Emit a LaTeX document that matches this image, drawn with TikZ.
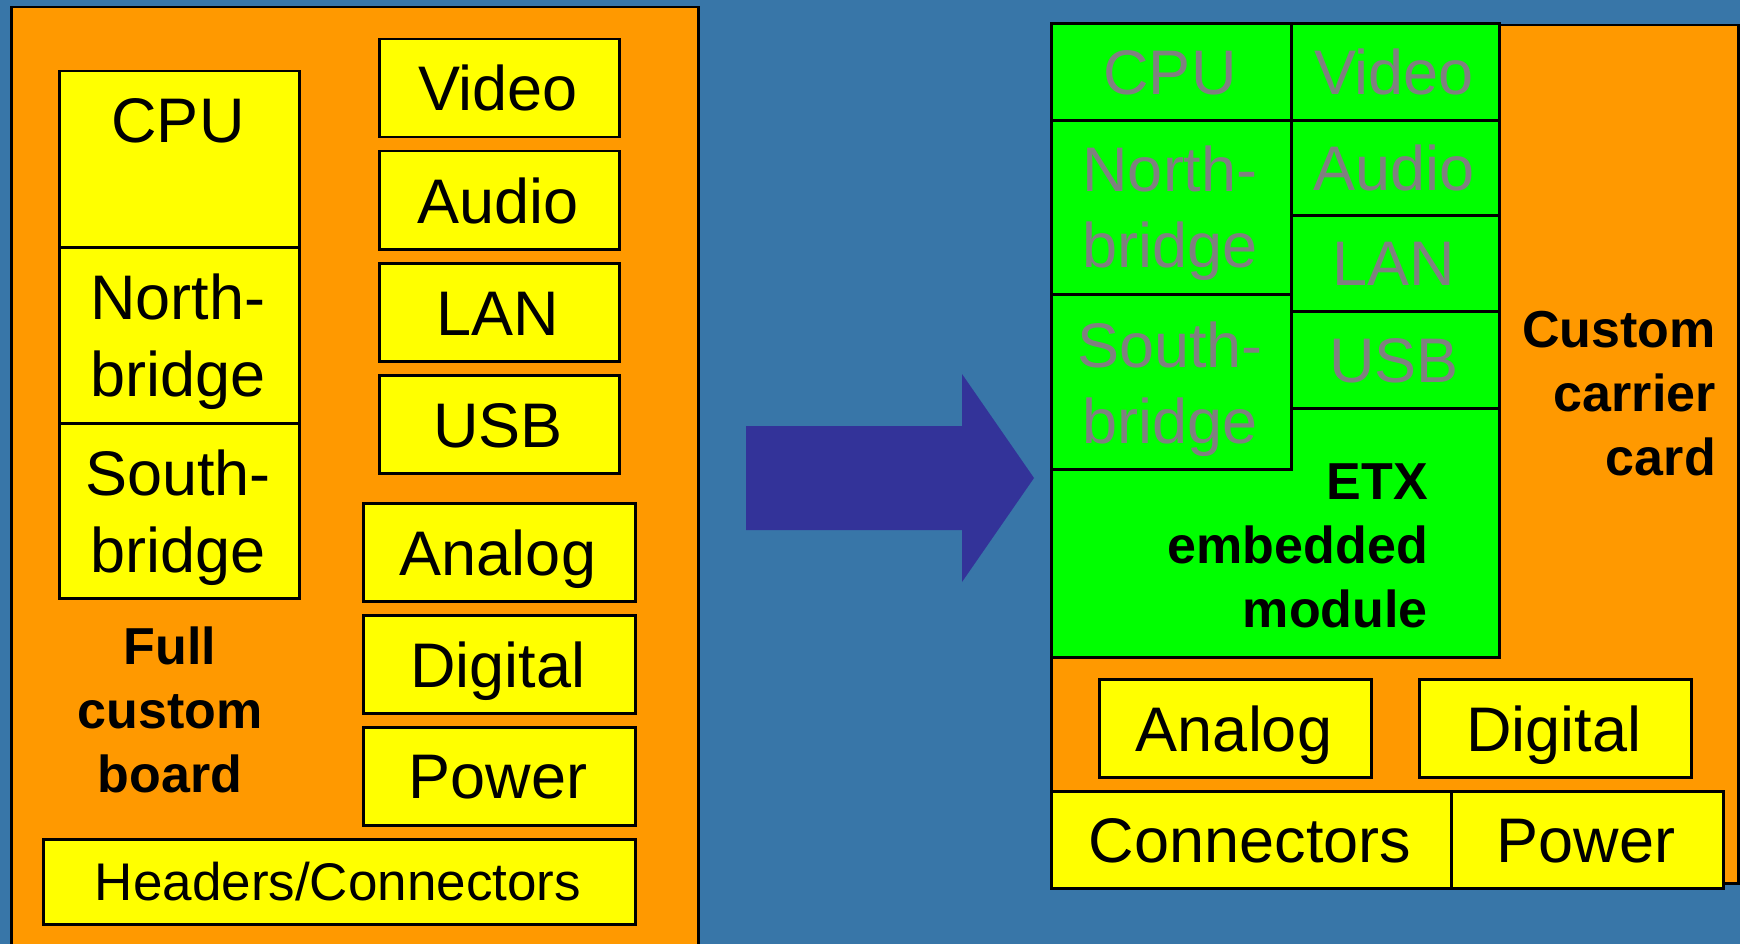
\documentclass[tikz,border=0pt]{standalone}
\usepackage{fontspec}
\setmainfont{Liberation Sans}
\definecolor{bgC}{HTML}{3876A8}
\definecolor{orangeC}{HTML}{FF9900}
\definecolor{yellowC}{HTML}{FFFF00}
\definecolor{greenC}{HTML}{00FF00}
\definecolor{arrowC}{HTML}{333399}
\definecolor{grayC}{HTML}{808080}
\tikzset{
  rbox/.style={draw=black, line width=2.5pt, rectangle, inner sep=0pt, anchor=north west},
  obox/.style={rbox, fill=orangeC},
  ybox/.style={rbox, fill=yellowC},
  gbox/.style={rbox, fill=greenC, line width=3pt},
  lbl/.style={font=\fontsize{63}{77}\selectfont, anchor=base, inner sep=0pt, align=center},
  glbl/.style={lbl, text=grayC, font=\fontsize{63}{76}\selectfont},
  blbl/.style={font=\fontsize{52}{64}\selectfont\bfseries, anchor=base, inner sep=0pt},
}
\begin{document}
\begin{tikzpicture}[x=1pt,y=-1pt]
\fill[bgC] (0,0) rectangle (1740,944);
\useasboundingbox (0,0) rectangle (1740,944);
% ---------- left: full custom board ----------
\node[obox, minimum width=687pt, minimum height=954pt] (boardL) at (10,6) {};
\node[ybox, minimum width=240pt, minimum height=176pt] (cpuL) at (58,70) {};
\node[ybox, minimum width=240pt, minimum height=176pt] (nbL) at (58,246) {};
\node[ybox, minimum width=240pt, minimum height=175pt] (sbL) at (58,422) {};
\node[ybox, minimum width=240pt, minimum height=98pt] (videoL) at (378,38) {};
\node[ybox, minimum width=240pt, minimum height=98pt] (audioL) at (378,150) {};
\node[ybox, minimum width=240pt, minimum height=98pt] (lanL) at (378,262) {};
\node[ybox, minimum width=240pt, minimum height=98pt] (usbL) at (378,374) {};
\node[ybox, minimum width=272pt, minimum height=98pt] (analogL) at (362,502) {};
\node[ybox, minimum width=272pt, minimum height=98pt] (digitalL) at (362,614) {};
\node[ybox, minimum width=272pt, minimum height=98pt] (powerL) at (362,726) {};
\node[ybox, minimum width=592pt, minimum height=85pt] (headersL) at (42,838) {};
\node[lbl] (tCpuL) at (178,143) {CPU};
\node[lbl] (tNbL) at (178,396) {North-\\bridge};
\node[lbl] (tSbL) at (178,572) {South-\\bridge};
\node[lbl] (tVideoL) at (498,111) {Video};
\node[lbl] (tAudioL) at (498,223) {Audio};
\node[lbl] (tLanL) at (498,335) {LAN};
\node[lbl] (tUsbL) at (498,447) {USB};
\node[lbl] (tAnalogL) at (498,575) {Analog};
\node[lbl] (tDigitalL) at (498,687) {Digital};
\node[lbl] (tPowerL) at (498,798) {Power};
\node[lbl, font=\fontsize{53}{64}\selectfont] (tHeadersL) at (338,900) {Headers/Connectors};
\node[blbl, align=center] (tFull) at (170,792) {Full\\custom\\board};
% ---------- arrow ----------
\fill[arrowC] (746,426) -- (962,426) -- (962,374) -- (1034,478) -- (962,582) -- (962,530) -- (746,530) -- cycle;
% ---------- right: carrier card with ETX module ----------
\node[obox, minimum width=687pt, minimum height=858pt] (carrier) at (1050,24) {};
\node[gbox, minimum width=448pt, minimum height=634pt] (etx) at (1050,22) {};
\node[gbox, minimum width=240pt, minimum height=97pt] (cpuR) at (1050,22) {};
\node[gbox, minimum width=208pt, minimum height=97pt] (videoR) at (1290,22) {};
\node[gbox, minimum width=240pt, minimum height=174pt] (nbR) at (1050,119) {};
\node[gbox, minimum width=240pt, minimum height=175pt] (sbR) at (1050,293) {};
\node[gbox, minimum width=208pt, minimum height=95pt] (audioR) at (1290,119) {};
\node[gbox, minimum width=208pt, minimum height=96pt] (lanR) at (1290,214) {};
\node[gbox, minimum width=208pt, minimum height=97pt] (usbR) at (1290,310) {};
\node[ybox, minimum width=272pt, minimum height=98pt] (analogR) at (1098,678) {};
\node[ybox, minimum width=272pt, minimum height=98pt] (digitalR) at (1418,678) {};
\node[ybox, minimum width=400pt, minimum height=97pt] (connR) at (1050,790) {};
\node[ybox, minimum width=272pt, minimum height=97pt] (powerR) at (1450,790) {};
\node[glbl] (tCpuR) at (1170,95) {CPU};
\node[glbl] (tVideoR) at (1394,95) {Video};
\node[glbl] (tNbR) at (1170,267) {North-\\bridge};
\node[glbl] (tSbR) at (1170,443) {South-\\bridge};
\node[glbl] (tAudioR) at (1394,191) {Audio};
\node[glbl] (tLanR) at (1394,285) {LAN};
\node[glbl] (tUsbR) at (1394,382) {USB};
\node[blbl, align=right, anchor=base east] (tEtx) at (1428,627) {ETX\\embedded\\module};
\node[blbl, align=right, anchor=base east] (tCarrier) at (1716,475) {Custom\\carrier\\card};
\node[lbl] (tAnalogR) at (1234,751) {Analog};
\node[lbl] (tDigitalR) at (1554,751) {Digital};
\node[lbl] (tConnR) at (1250,862) {Connectors};
\node[lbl] (tPowerR) at (1586,862) {Power};
\end{tikzpicture}
\end{document}
